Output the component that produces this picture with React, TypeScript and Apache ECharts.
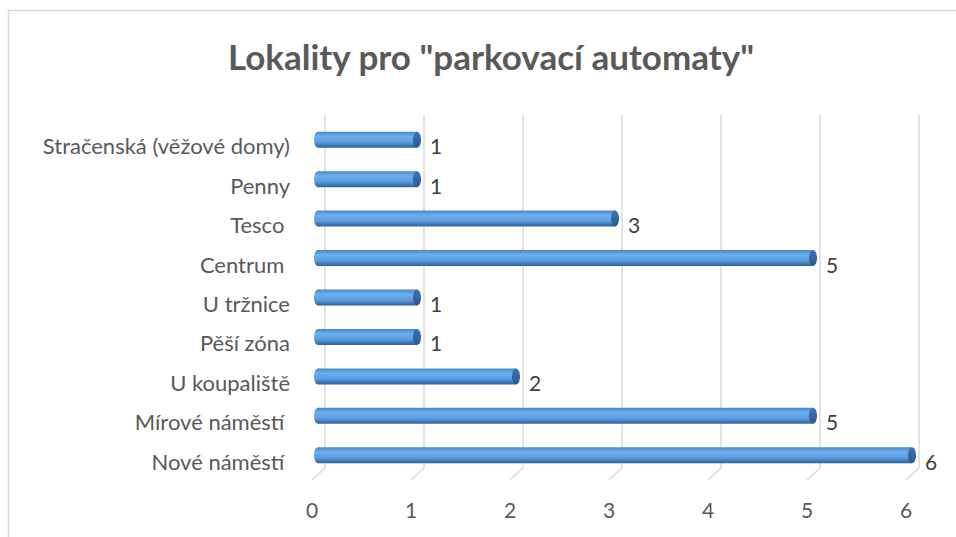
import React, { useEffect, useRef } from "react";
import * as echarts from "echarts";

const categories = [
  "Nové náměstí ",
  "Mírové náměstí ",
  "U koupaliště",
  "Pěší zóna",
  "U tržnice",
  "Centrum ",
  "Tesco ",
  "Penny",
  "Stračenská (věžové domy)",
];
const values = [6, 5, 2, 1, 1, 5, 3, 1, 1];
const tickValues = [0, 1, 2, 3, 4, 5, 6];
const titleText = 'Lokality pro "parkovací automaty"';

const FONT = "Lato, 'Open Sans', sans-serif";

export default function App() {
  const ref = useRef<HTMLDivElement>(null);
  useEffect(() => {
    if (!ref.current) return;
    const chart = echarts.init(ref.current, undefined, { renderer: "svg" });
    const barGrad = () =>
      new echarts.graphic.LinearGradient(0, 0, 0, 1, [
        { offset: 0, color: "#4a86c6" },
        { offset: 0.3, color: "#6db0ee" },
        { offset: 0.65, color: "#5b9de0" },
        { offset: 1, color: "#2e5f98" },
      ]);
    const capGrad = () =>
      new echarts.graphic.LinearGradient(0, 0, 0, 1, [
        { offset: 0, color: "#3f74b0" },
        { offset: 1, color: "#2c5a8f" },
      ]);
    const option: any = {
      animation: false,
      backgroundColor: "#ffffff",
      title: {
        text: titleText,
        left: 486,
        top: 33,
        textAlign: "center",
        textStyle: { fontFamily: FONT, fontWeight: "bold", fontSize: 35, color: "#595959" },
      },
      graphic: [
        {
          type: "rect",
          shape: { x: 8.5, y: 10.5, width: 980, height: 560 },
          style: { fill: "none", stroke: "#d9d9d9", lineWidth: 1.5 },
          silent: true,
          z: -10,
        },
      ],
      grid: [
        { left: 318, width: 594, top: 120, bottom: 62 },
        { left: 312, width: 594, top: 126, bottom: 56 },
      ],
      xAxis: [
        {
          gridIndex: 0,
          type: "value",
          min: 0,
          max: 6,
          interval: 1,
          axisLine: { show: false },
          axisTick: { show: false },
          axisLabel: { show: false },
          splitLine: { show: false },
        },
        {
          gridIndex: 1,
          type: "value",
          min: 0,
          max: 6,
          interval: 1,
          axisLine: { show: false },
          axisTick: { show: false },
          splitLine: { show: false },
          axisLabel: { margin: 18, fontFamily: FONT, fontSize: 21, color: "#595959" },
        },
      ],
      yAxis: [
        {
          gridIndex: 0,
          type: "category",
          data: categories,
          axisLine: { show: false },
          axisTick: { show: false },
          axisLabel: { show: false },
          splitLine: { show: false },
        },
        {
          gridIndex: 1,
          type: "category",
          data: categories,
          axisLine: { show: false },
          axisTick: { show: false },
          splitLine: { show: false },
          axisLabel: { margin: 22, fontFamily: FONT, fontSize: 22, color: "#595959" },
        },
      ],
      series: [
        {
          type: "custom",
          xAxisIndex: 0,
          yAxisIndex: 0,
          data: tickValues.map((v) => [v, 0]),
          silent: true,
          z: 1,
          renderItem: (params: any, api: any) => {
            const cs = params.coordSys;
            const x = api.coord([api.value(0), 0])[0];
            const bottom = cs.y + cs.height;
            return {
              type: "polyline",
              shape: {
                points: [
                  [x + 7, cs.y - 5],
                  [x + 7, bottom - 7],
                  [x - 6, bottom + 5],
                ],
              },
              style: { stroke: "#d9d9d9", lineWidth: 1.5, fill: "none" },
            };
          },
        },
        {
          type: "custom",
          xAxisIndex: 0,
          yAxisIndex: 0,
          data: values.map((v, i) => [v, i]),
          z: 5,
          renderItem: (params: any, api: any) => {
            const v = api.value(0);
            const i = api.value(1);
            const end = api.coord([v, i]);
            const start = api.coord([0, i]);
            const h = 16;
            const x0 = start[0];
            const x1 = end[0];
            const yc = end[1];
            return {
              type: "group",
              children: [
                {
                  type: "ellipse",
                  shape: { cx: x0, cy: yc, rx: 4, ry: h / 2 },
                  style: { fill: barGrad() },
                },
                {
                  type: "rect",
                  shape: { x: x0, y: yc - h / 2, width: x1 - x0, height: h },
                  style: { fill: barGrad() },
                },
                {
                  type: "ellipse",
                  shape: { cx: x1, cy: yc, rx: 4, ry: h / 2 },
                  style: { fill: capGrad() },
                },
                {
                  type: "text",
                  x: x1 + 13,
                  y: yc + 6,
                  style: {
                    text: String(v),
                    fontFamily: FONT,
                    fontSize: 21,
                    fill: "#404040",
                    verticalAlign: "middle",
                    align: "left",
                  },
                },
              ],
            };
          },
        },
      ],
    };
    chart.setOption(option);
    return () => chart.dispose();
  }, []);
  return (
    <div
      ref={ref}
      style={{ position: "fixed", left: 0, top: 0, width: 956, height: 537 }}
    />
  );
}
